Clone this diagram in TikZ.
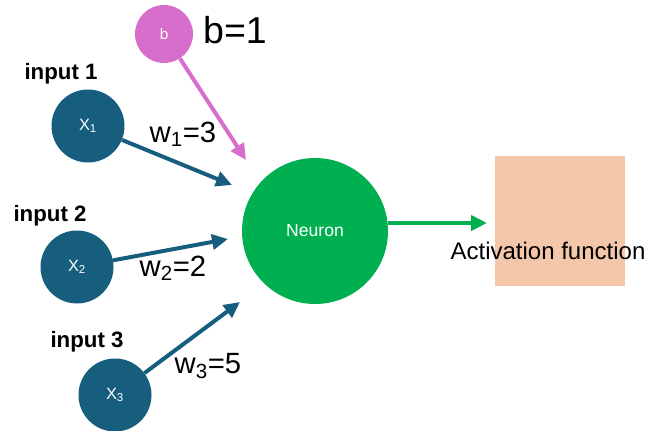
\documentclass[tikz,border=0pt]{standalone}
\usepackage{fontspec}
\setmainfont{Liberation Sans}
\usepackage{xcolor}
\definecolor{inblue}{RGB}{23, 94, 126}
\definecolor{biaspink}{RGB}{216, 110, 204}
\definecolor{neurongreen}{RGB}{0, 176, 80}
\definecolor{actpeach}{RGB}{245, 199, 170}
\usepackage{tikz}
\usetikzlibrary{
    arrows.meta,
    positioning,
    calc
}

\begin{document}
\begin{tikzpicture}[
    x=0.3mm, y=-0.3mm,
    every text node part/.style={align=center},
    inputnode/.style={circle, fill=inblue, minimum size=21.9mm, inner sep=0pt, text=white, font=\fontsize{14}{16}\selectfont},
    biasnode/.style={circle, fill=biaspink, minimum size=17.4mm, inner sep=0pt, text=white, font=\fontsize{13}{15}\selectfont},
    neuronnode/.style={circle, fill=neurongreen, minimum size=43.8mm, inner sep=0pt, text=white, font=\fontsize{15}{17}\selectfont},
    actbox/.style={rectangle, fill=actpeach, minimum width=39mm, minimum height=39mm, inner sep=0pt},
    inlabel/.style={font=\bfseries\fontsize{19}{21}\selectfont},
    wlabel/.style={font=\fontsize{25}{27}\selectfont},
    link/.style={line width=3.4pt, -{Triangle[length=4.8mm, width=4.5mm]}}
]
\useasboundingbox (0,0) rectangle (648,430);

% ==================== NEURON AND ACTIVATION ====================
\node[neuronnode] (neuron) at (315, 231) {Neuron};
\node[actbox] (act) at (560, 221) {};
\node[font=\fontsize{20.5}{22}\selectfont] (act_label) at (548, 251) {Activation function};

\coordinate (out_tip) at (487, 223);
\draw[link, neurongreen] (neuron.east |- out_tip) -- (out_tip);

% ==================== BIAS ====================
\node[biasnode] (bias) at (164, 34) {b};
\node[font=\fontsize{32}{34}\selectfont] (bias_label) at (235, 30) {b=1};

\coordinate (bias_tip) at (246, 160);
\draw[link, biaspink] (bias) -- (bias_tip);

% ==================== INPUTS ====================
\node[inputnode] (x1) at (88, 126) {X\textsubscript{1}};
\node[inlabel] (in1) at (61, 74) {input 1};
\node[inputnode] (x2) at (77, 267) {X\textsubscript{2}};
\node[inlabel] (in2) at (50, 216) {input 2};
\node[inputnode] (x3) at (115, 395) {X\textsubscript{3}};
\node[inlabel] (in3) at (87, 342) {input 3};

\coordinate (w1_tip) at (232, 185);
\coordinate (w2_tip) at (228, 239);
\coordinate (w3_tip) at (240, 302);

\draw[link, inblue] (x1) -- (w1_tip);
\draw[link, inblue] (x2) -- (w2_tip);
\draw[link, inblue] (x3) -- (w3_tip);

\node[wlabel] (w1) at (183, 134) {w\textsubscript{1}=3};
\node[wlabel] (w2) at (173, 268) {w\textsubscript{2}=2};
\node[wlabel] (w3) at (208, 366) {w\textsubscript{3}=5};

\end{tikzpicture}
\end{document}
